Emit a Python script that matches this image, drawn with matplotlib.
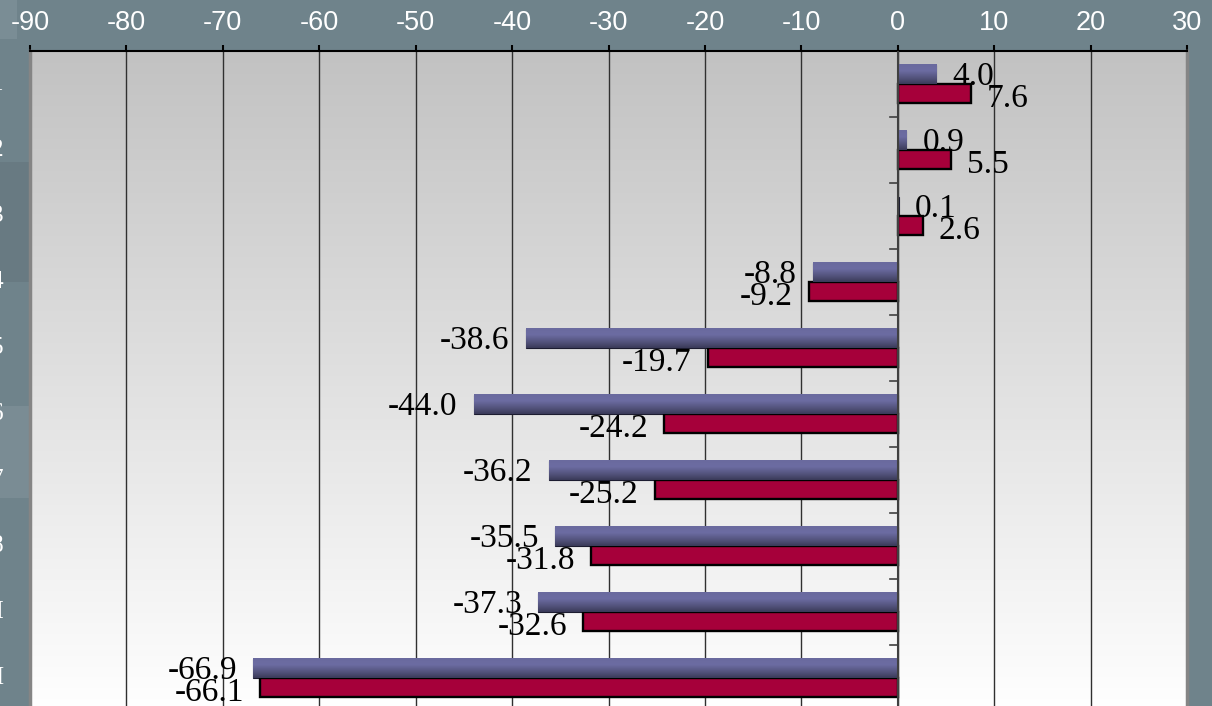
import numpy as np
import matplotlib.pyplot as plt
from matplotlib.patches import Rectangle
from matplotlib.colors import LinearSegmentedColormap

# Dados (de cima para baixo)
categorias = ["Grupo 1", "Grupo 2", "Grupo 3", "Grupo 4", "Grupo 5",
              "Grupo 6", "Grupo 7", "Grupo 8", "Grupo II", "Grupo III"]
serie_azul = [4.0, 0.9, 0.1, -8.8, -38.6, -44.0, -36.2, -35.5, -37.3, -66.9]
serie_vermelha = [7.6, 5.5, 2.6, -9.2, -19.7, -24.2, -25.2, -31.8, -32.6, -66.1]
ticks_x = list(range(-90, 31, 10))

plt.rcParams['axes.unicode_minus'] = False

fundo = '#6f838b'
fig = plt.figure(figsize=(12.12, 7.06), dpi=100, facecolor=fundo)

# algumas manchas do fundo do slide
for (x0, y0, w, h, c) in [(0.0, 0.945, 0.014, 0.055, '#7a8d95'),
                          (0.0, 0.60, 0.024, 0.17, '#687a82'),
                          (0.0, 0.295, 0.024, 0.13, '#7a8c94')]:
    fig.patches.append(Rectangle((x0, y0), w, h, transform=fig.transFigure,
                                 facecolor=c, edgecolor='none', zorder=-5))

ax = fig.add_axes([30 / 1212, -5 / 706, 1157 / 1212, 660 / 706])
ax.set_xlim(-90, 30)
ax.set_ylim(len(categorias) - 0.5, -0.5)

# gradiente da área de plotagem (cinza em cima, branco embaixo)
grad = np.linspace(0, 1, 256).reshape(-1, 1)
ax.imshow(grad, extent=[0, 1, 0, 1], transform=ax.transAxes, aspect='auto',
          cmap=LinearSegmentedColormap.from_list('g', ['#c2c2c2', '#ffffff']),
          zorder=0)

for x in ticks_x[1:-1]:
    ax.axvline(x, color='#303030', lw=1.0, zorder=1)

y = np.arange(len(categorias))
alt = 0.29
b_azul = ax.barh(y - 0.15, serie_azul, height=alt, color='#5c5c8c',
                 edgecolor='#1c1c30', lw=0.8, zorder=3)
b_verm = ax.barh(y + 0.15, serie_vermelha, height=alt, color='#a6003a',
                 edgecolor='black', lw=1.7, zorder=3)

# gradiente nas barras azuis
cmap_azul = LinearSegmentedColormap.from_list(
    'az', ['#3a3a58', '#55557f', '#6c6ca2', '#6a6a9e'])
for b in b_azul:
    x0, y0, w, h = b.get_x(), b.get_y(), b.get_width(), b.get_height()
    ax.imshow(grad, extent=[x0, x0 + w, y0 + h, y0], aspect='auto',
              cmap=cmap_azul, zorder=3.5, origin='lower')

# rótulos de dados
for barras, vals, dy in [(b_azul, serie_azul, -2), (b_verm, serie_vermelha, -3.5)]:
    for b, v in zip(barras, vals):
        yc = b.get_y() + b.get_height() / 2
        off = 11.5 if v >= 0 else -11.5
        ax.annotate(f"{v:.1f}", xy=(v, yc), xytext=(off, dy),
                    textcoords='offset points', ha='left' if v >= 0 else 'right',
                    va='center', fontsize=24, family='Liberation Serif',
                    color='black', zorder=5)

# eixo zero com marcas das categorias
ax.axvline(0, color='#404040', lw=1.5, zorder=4)
for yb in np.arange(0.5, len(categorias) - 0.5, 1):
    ax.plot([-0.85, 0], [yb, yb], color='#404040', lw=1.2, zorder=4)

# rótulos das categorias (quase todos fora da figura)
for yi, cat in zip(y, categorias):
    ax.text(-0.0225, yi, cat, transform=ax.get_yaxis_transform(), ha='right',
            va='center', color='white', fontsize=18, family='Liberation Serif')

ax.set_yticks([])
ax.xaxis.tick_top()
ax.set_xticks(ticks_x)
ax.tick_params(axis='x', colors='black', labelcolor='white', length=4.5, width=1.5,
               pad=6, labelsize=19.5)
for lbl in ax.get_xticklabels():
    lbl.set_family('Liberation Sans')

ax.spines['bottom'].set_visible(False)
ax.spines['top'].set_color('black')
ax.spines['top'].set_linewidth(1.5)
for s in ['left', 'right']:
    ax.spines[s].set_color('#858585')
    ax.spines[s].set_linewidth(2.5)

fig.savefig('out.png', dpi=100, facecolor=fundo)
